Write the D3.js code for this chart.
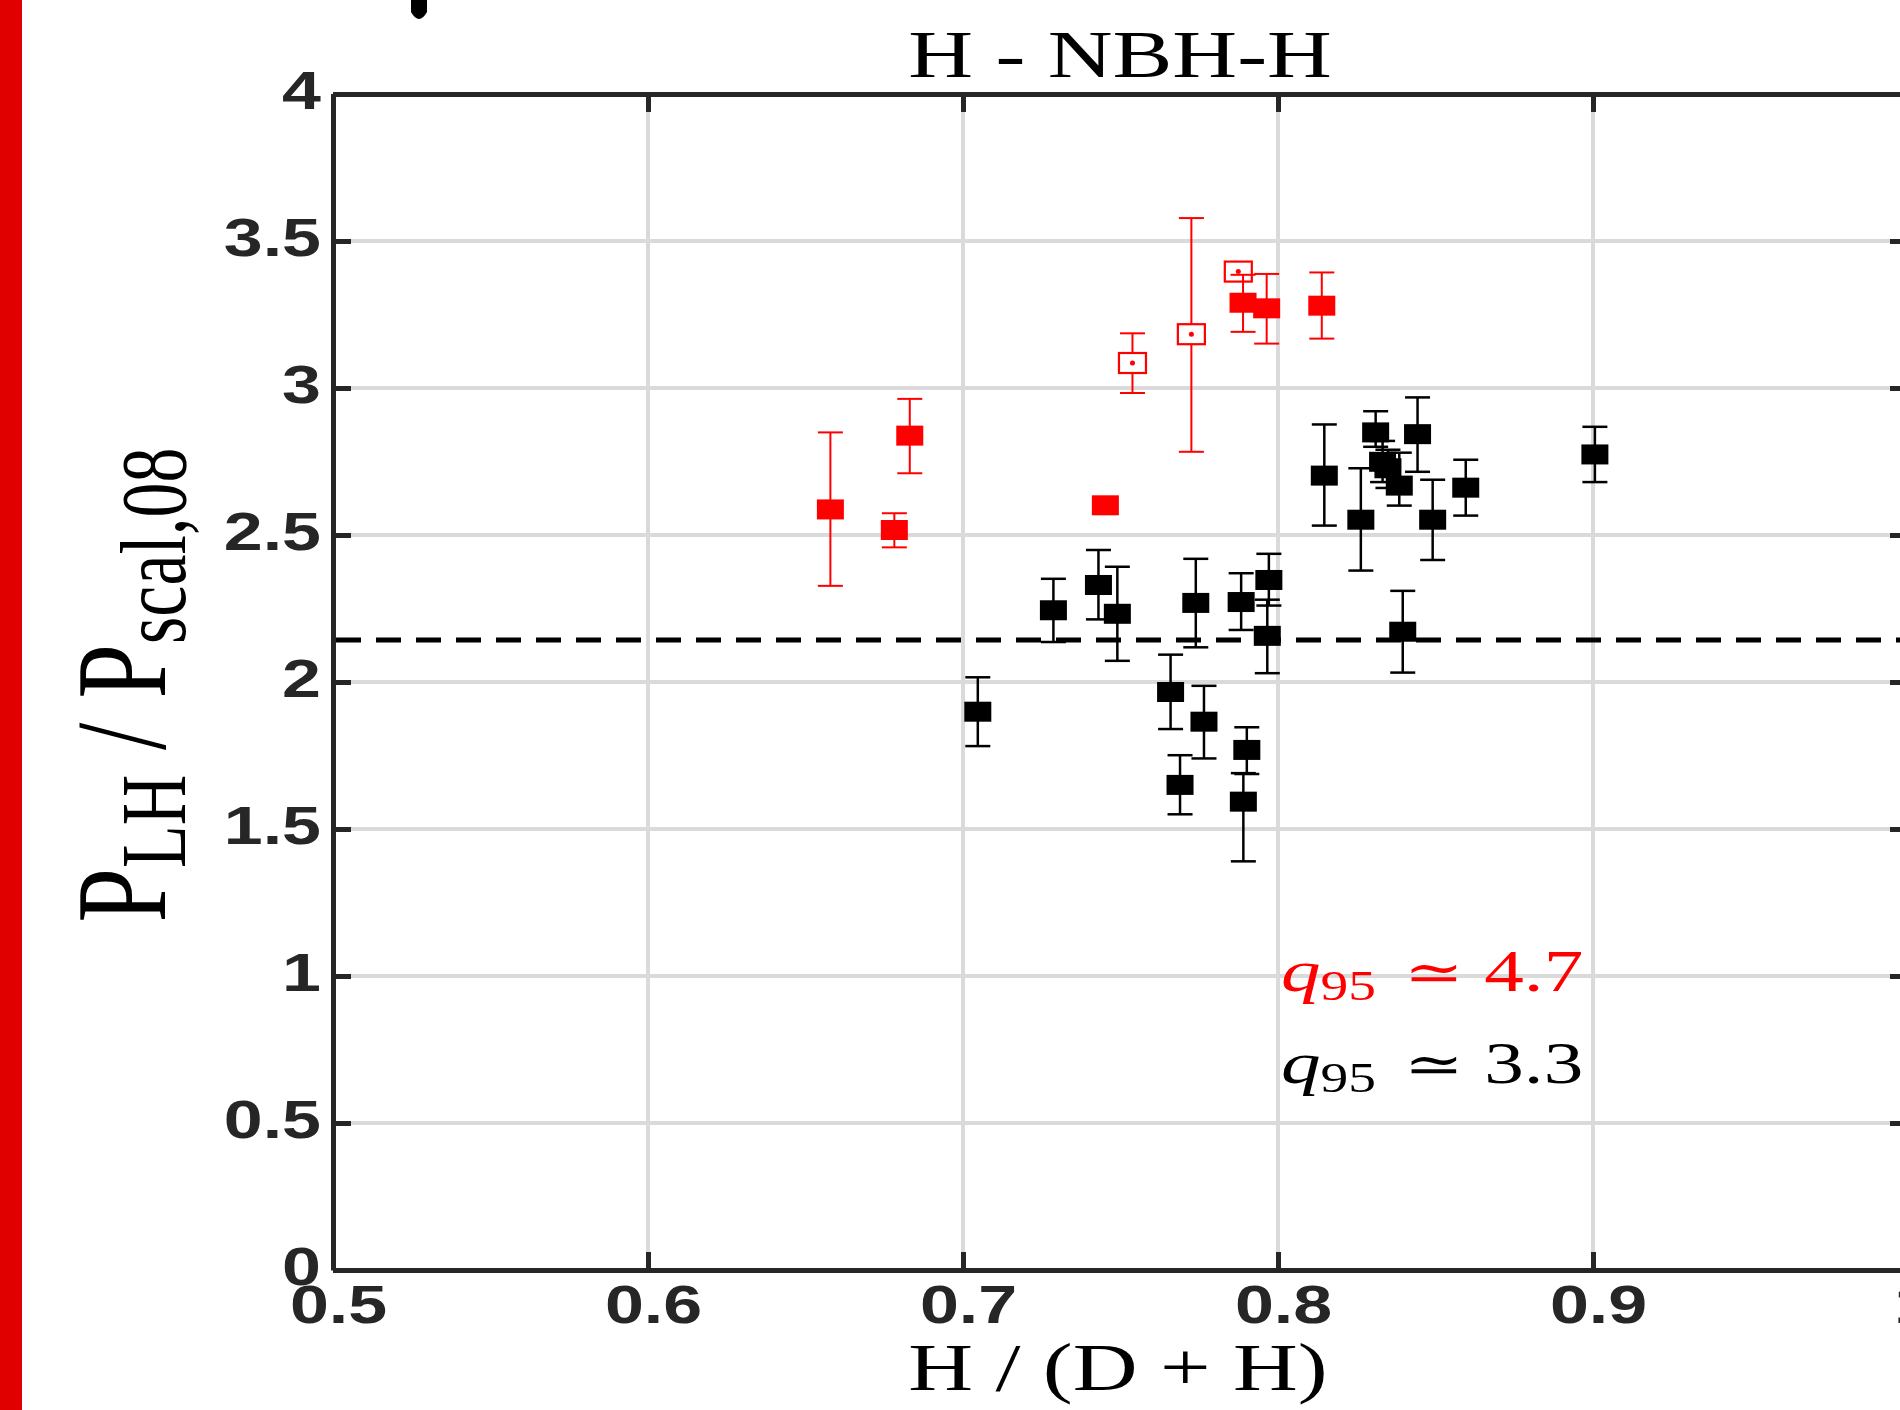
<!DOCTYPE html>
<html>
<head>
<meta charset="utf-8">
<script src="https://cdn.jsdelivr.net/npm/d3@7"></script>
<style>
  body { margin: 0; background: #fff; overflow: hidden; }
  svg { display: block; }
  .tick text { font-family: "Liberation Sans", Arial, sans-serif; font-weight: bold; font-size: 53px; fill: #262626; }
  .serif { font-family: "Liberation Serif", "Times New Roman", serif; }
</style>
</head>
<body>
<div id="chart"></div>
<script>
// tick values
var xTicks = [0.5, 0.6, 0.7, 0.8, 0.9, 1.0]
var yTicks = [0, 0.5, 1, 1.5, 2, 2.5, 3, 3.5, 4]

// red, open markers (x, y, lower, upper)
var openX  = [0.7538, 0.7725, 0.7874]
var openY  = [3.085, 3.183, 3.396]
var openLo = [2.983, 2.783, 3.381]
var openHi = [3.186, 3.578, 3.411]

// red, filled markers
var redX  = [0.6579, 0.6782, 0.6831, 0.7452, 0.7889, 0.7964, 0.8139]
var redY  = [2.587, 2.517, 2.838, 2.601, 3.290, 3.271, 3.280]
var redLo = [2.327, 2.458, 2.710, 2.590, 3.191, 3.151, 3.168]
var redHi = [2.849, 2.574, 2.963, 2.612, 3.385, 3.388, 3.393]

// black markers
var blackX  = [0.7047, 0.7287, 0.7430, 0.7490, 0.7659, 0.7689, 0.7739, 0.7765, 0.7883, 0.7901, 0.7890, 0.7971,
               0.7966, 0.8147, 0.8263, 0.8310, 0.8332, 0.8349, 0.8385, 0.8443, 0.8491, 0.8596, 0.8396, 0.9006]
var blackY  = [1.899, 2.244, 2.330, 2.232, 1.966, 1.650, 2.269, 1.865, 2.272, 1.769, 1.593, 2.347,
               2.157, 2.702, 2.552, 2.849, 2.749, 2.727, 2.668, 2.843, 2.552, 2.661, 2.171, 2.774]
var blackLo = [1.782, 2.136, 2.213, 2.072, 1.840, 1.550, 2.118, 1.740, 2.177, 1.687, 1.390, 2.260,
               2.030, 2.532, 2.379, 2.800, 2.680, 2.660, 2.600, 2.715, 2.415, 2.566, 2.032, 2.680]
var blackHi = [2.016, 2.351, 2.449, 2.392, 2.093, 1.751, 2.419, 1.987, 2.370, 1.846, 1.690, 2.436,
               2.280, 2.876, 2.727, 2.921, 2.820, 2.790, 2.780, 2.968, 2.688, 2.756, 2.310, 2.868]

var threshold = [2.143]

var W = 1900, H = 1410
var sx = 1.32   // the picture is stretched sideways
var red = "#ff0000"

var svg = d3.select("#chart").append("svg").attr("width", W).attr("height", H)

var x = d3.scaleLinear().domain([0.5, 1.0]).range([333, 1908])
var y = d3.scaleLinear().domain([0, 4]).range([1270, 94])

// grid
svg.append("g").selectAll("line").data(xTicks.slice(1, 5)).join("line")
  .attr("x1", function(d){ return x(d) }).attr("x2", function(d){ return x(d) })
  .attr("y1", y(4)).attr("y2", y(0))
  .attr("stroke", "#dadada").attr("stroke-width", 4)
svg.append("g").selectAll("line").data(yTicks.slice(1, 8)).join("line")
  .attr("y1", function(d){ return y(d) }).attr("y2", function(d){ return y(d) })
  .attr("x1", x(0.5)).attr("x2", x(1.0))
  .attr("stroke", "#dadada").attr("stroke-width", 4)

// dashed level
svg.append("line")
  .attr("x1", x(0.5)).attr("x2", x(1.0))
  .attr("y1", y(threshold[0])).attr("y2", y(threshold[0]))
  .attr("stroke", "#000").attr("stroke-width", 5)
  .attr("stroke-dasharray", "25 15").attr("stroke-dashoffset", -3)

function series(X, Y, Lo, Hi, color, width, open){
  var g = svg.append("g")
  var hw = 12.5
  X.forEach(function(d, i){
    var cx = x(d)
    g.append("line").attr("x1", cx).attr("x2", cx).attr("y1", y(Lo[i])).attr("y2", y(Hi[i]))
      .attr("stroke", color).attr("stroke-width", width)
    g.append("line").attr("x1", cx - hw).attr("x2", cx + hw).attr("y1", y(Lo[i])).attr("y2", y(Lo[i]))
      .attr("stroke", color).attr("stroke-width", width)
    g.append("line").attr("x1", cx - hw).attr("x2", cx + hw).attr("y1", y(Hi[i])).attr("y2", y(Hi[i]))
      .attr("stroke", color).attr("stroke-width", width)
  })
  g.selectAll("rect").data(X).join("rect")
    .attr("x", function(d){ return x(d) - 13.5 })
    .attr("y", function(d, i){ return y(Y[i]) - 10 })
    .attr("width", 27).attr("height", 20)
    .attr("fill", open ? "#fff" : color)
    .attr("stroke", open ? color : "none")
    .attr("stroke-width", 2.2)
  if(open){
    g.selectAll("circle").data(X).join("circle")
      .attr("cx", function(d){ return x(d) })
      .attr("cy", function(d, i){ return y(Y[i]) })
      .attr("r", 2.5).attr("fill", color)
  }
}

series(openX, openY, openLo, openHi, red, 2, true)
series(redX, redY, redLo, redHi, red, 2, false)
series(blackX, blackY, blackLo, blackHi, "#000", 2.5, false)

// axes (box, ticks inward)
function styleAxis(g){
  g.select(".domain").attr("stroke", "#262626").attr("stroke-width", 5)
  g.selectAll(".tick line").attr("stroke", "#262626").attr("stroke-width", 5)
}
var fmt = function(d){ return String(d) }

var xAxis = svg.append("g").attr("transform", "translate(0," + y(0) + ")")
  .call(d3.axisBottom(x).tickValues(xTicks).tickFormat(fmt).tickSizeInner(-18).tickSizeOuter(0))
styleAxis(xAxis)
xAxis.selectAll(".tick text").attr("y", 53).attr("dy", null)
  .attr("transform", "translate(5,0) scale(" + sx + ",1)")

var yAxis = svg.append("g").attr("transform", "translate(" + x(0.5) + ",0)")
  .call(d3.axisLeft(y).tickValues(yTicks).tickFormat(fmt).tickSizeInner(-18).tickSizeOuter(0))
styleAxis(yAxis)
yAxis.selectAll(".tick text").attr("x", 0).attr("dy", null).attr("y", 0)
  .attr("transform", "translate(-12,14) scale(" + sx + ",1)")

var topAxis = svg.append("g").attr("transform", "translate(0," + y(4) + ")")
  .call(d3.axisTop(x).tickValues(xTicks).tickFormat("").tickSizeInner(-18).tickSizeOuter(0))
styleAxis(topAxis)
var rightAxis = svg.append("g").attr("transform", "translate(" + x(1.0) + ",0)")
  .call(d3.axisRight(y).tickValues(yTicks).tickFormat("").tickSizeInner(-18).tickSizeOuter(0))
styleAxis(rightAxis)

// title and axis labels
svg.append("g").attr("transform", "translate(1120,77) scale(" + sx + ",1)")
  .append("text").attr("class", "serif").attr("text-anchor", "middle")
  .attr("font-size", 68).attr("fill", "#000").text("H - NBH-H")

svg.append("g").attr("transform", "translate(1118,1390) scale(" + sx + ",1)")
  .append("text").attr("class", "serif").attr("text-anchor", "middle")
  .attr("font-size", 68).attr("fill", "#000").text("H / (D + H)")

var yl = svg.append("g").attr("transform", "translate(165,685) scale(" + sx + ",1) rotate(-90)")
  .append("text").attr("class", "serif").attr("text-anchor", "middle")
  .attr("font-size", 98).attr("fill", "#000")
yl.append("tspan").text("P")
yl.append("tspan").attr("font-size", 70).attr("dy", 15).text("LH")
yl.append("tspan").attr("dy", -15).text(" / P")
yl.append("tspan").attr("font-size", 70).attr("dy", 15).text("scal,08")

// q95 notes
function note(yb, value, color){
  var t = svg.append("g").attr("transform", "translate(1281," + yb + ") scale(" + sx + ",1)")
    .append("text").attr("class", "serif").attr("fill", color).attr("font-size", 60)
  t.append("tspan").attr("x", 0).attr("font-style", "italic").text("q")
  t.append("tspan").attr("font-size", 42).attr("dy", 9).text("95")
  t.append("tspan").attr("x", 93).attr("dy", -9).attr("font-size", 54)
    .attr("font-family", "DejaVu Serif").text("\u2243")
  t.append("tspan").attr("x", 154).text(value)
}
note(991, "4.7", red)
note(1083, "3.3", "#000")

// red strip on the left edge and a cut-off glyph at the top
svg.append("rect").attr("x", 0).attr("y", 0).attr("width", 22).attr("height", H).attr("fill", "#e10000")
svg.append("path").attr("d", "M411,0 H427 V12 Q419,26 411,12 Z").attr("fill", "#000")
</script>
</body>
</html>
